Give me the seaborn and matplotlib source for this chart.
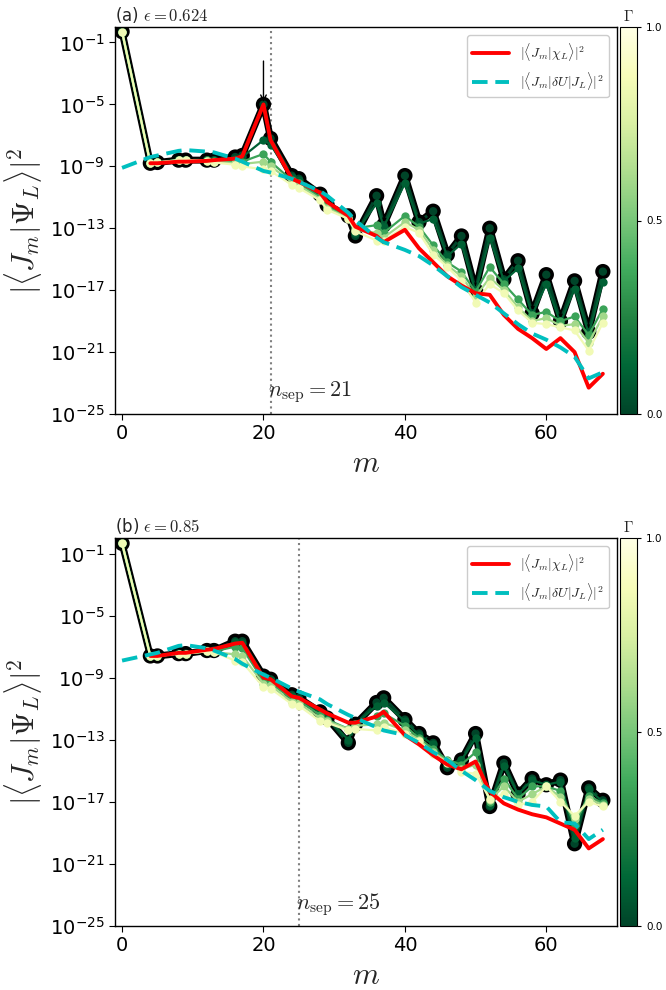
import numpy as np
import pandas as pd
import matplotlib
matplotlib.use("Agg")
import matplotlib.pyplot as plt
import matplotlib.patheffects as pe
from matplotlib.ticker import NullLocator
from matplotlib.cm import ScalarMappable
from matplotlib.colors import Normalize
import seaborn as sns

# ---------------- data (log10 of |<J_m|Psi_L>|^2) ----------------
m_vals = [0, 4, 5, 8, 9, 12, 13, 16, 17, 20, 21, 24, 25, 28, 29, 32, 33, 36, 37,
          40, 42, 44, 46, 48, 50, 52, 54, 56, 58, 60, 62, 64, 66, 68]
gammas = [0.0, 0.1, 0.35, 0.6, 0.85]

a_g00 = [-0.3, -8.8, -8.75, -8.6, -8.6, -8.6, -8.6, -8.4, -8.3, -5.0, -7.2, -9.6, -9.8, -10.8, -11.5, -12.2, -13.5,
         -10.9, -12.8, -9.6, -12.6, -11.9, -14.7, -13.5, -17.0, -13.0, -16.3, -15.1, -18.5, -16.0, -19.0, -16.4, -19.7, -15.8]
a_g01 = [-0.3, -8.8, -8.75, -8.6, -8.6, -8.6, -8.6, -8.5, -8.4, -7.3, -7.6, -9.7, -9.9, -10.9, -11.5, -12.3, -13.3,
         -11.4, -12.9, -10.1, -12.7, -12.4, -14.8, -14.0, -17.1, -13.6, -16.4, -15.6, -18.6, -16.6, -19.1, -16.9, -19.8, -16.5]
a_g04 = [-0.3, -8.8, -8.75, -8.6, -8.6, -8.6, -8.65, -8.7, -8.7, -8.2, -8.7, -9.9, -10.1, -11.0, -11.6, -12.3, -13.0,
         -12.8, -13.3, -12.2, -12.9, -14.1, -15.2, -15.8, -17.1, -15.5, -16.6, -17.6, -18.6, -18.4, -19.0, -18.7, -19.9, -18.2]
a_g07 = [-0.3, -8.8, -8.75, -8.6, -8.6, -8.65, -8.7, -8.8, -8.85, -8.7, -9.0, -10.0, -10.25, -11.1, -11.7, -12.35, -13.1,
         -13.3, -13.6, -12.6, -13.1, -14.4, -15.4, -16.1, -17.4, -16.2, -17.0, -18.1, -19.0, -18.8, -19.3, -19.2, -20.4, -18.7]
a_g10 = [-0.3, -8.8, -8.75, -8.6, -8.6, -8.65, -8.75, -8.9, -9.0, -9.2, -9.3, -10.2, -10.4, -11.2, -11.8, -12.4, -13.2,
         -13.8, -13.8, -12.9, -13.3, -14.7, -15.5, -16.4, -17.8, -16.6, -17.2, -18.3, -19.1, -19.2, -19.4, -19.6, -20.9, -19.1]
a_red = [-8.8, -8.8, -8.7, -8.7, -8.65, -8.6, -8.5, -8.35, -5.0, -7.3, -9.8, -10.0, -10.7, -11.3, -12.2, -12.9,
         -13.5, -13.9, -13.1, -14.3, -15.2, -16.1, -16.7, -17.2, -17.3, -18.6, -19.5, -20.1, -20.8, -20.1, -21.0, -23.3, -22.4]
a_cyan = [-9.1, -8.4, -8.3, -8.0, -7.95, -8.05, -8.1, -8.5, -8.7, -9.3, -9.4, -9.8, -10.0, -10.6, -10.9, -12.0, -12.5,
          -13.6, -13.9, -14.4, -14.8, -15.4, -16.1, -16.8, -17.3, -17.8, -18.5, -19.2, -19.8, -20.2, -20.7, -21.3, -22.7, -22.3]

b_g00 = [-0.35, -7.6, -7.6, -7.45, -7.45, -7.25, -7.25, -6.65, -6.65, -8.9, -9.1, -10.1, -10.3, -11.2, -11.6, -13.2, -12.0,
         -10.6, -10.3, -11.7, -12.6, -13.2, -14.8, -14.3, -12.6, -17.3, -14.5, -16.5, -15.5, -15.9, -15.6, -19.7, -16.1, -16.9]
b_g01 = [-0.35, -7.6, -7.6, -7.45, -7.45, -7.25, -7.25, -6.7, -6.75, -8.95, -9.15, -10.15, -10.35, -11.2, -11.6, -13.0, -12.0,
         -10.8, -10.6, -11.8, -12.7, -13.3, -14.6, -14.3, -12.9, -17.2, -14.7, -16.5, -15.6, -15.9, -15.7, -19.3, -16.2, -17.0]
b_g04 = [-0.35, -7.6, -7.6, -7.45, -7.45, -7.3, -7.3, -7.0, -7.1, -9.2, -9.35, -10.35, -10.5, -11.4, -11.7, -12.3, -12.0,
         -11.5, -11.3, -12.1, -12.9, -13.6, -14.3, -14.6, -13.8, -17.0, -15.5, -16.8, -16.0, -16.0, -16.3, -18.5, -16.6, -17.1]
b_g07 = [-0.35, -7.6, -7.6, -7.45, -7.45, -7.3, -7.35, -7.5, -7.6, -9.4, -9.5, -10.55, -10.65, -11.6, -11.8, -12.3, -12.1,
         -12.0, -11.9, -12.4, -13.0, -13.8, -14.4, -14.9, -14.6, -16.9, -16.0, -17.0, -16.5, -16.0, -16.7, -18.1, -16.8, -17.2]
b_g10 = [-0.35, -7.6, -7.6, -7.45, -7.45, -7.3, -7.35, -7.9, -8.0, -9.6, -9.7, -10.7, -10.8, -11.8, -11.9, -12.4, -12.3,
         -12.4, -12.2, -12.6, -13.1, -13.9, -14.5, -15.05, -15.2, -16.8, -16.5, -17.2, -17.0, -16.0, -17.0, -17.9, -17.0, -17.3]
b_red = [-7.6, -7.6, -7.4, -7.4, -7.2, -7.15, -6.8, -6.75, -9.0, -9.1, -10.2, -10.3, -11.05, -11.3, -11.9, -11.9,
         -11.5, -11.2, -12.7, -13.3, -14.0, -14.6, -14.9, -14.4, -16.35, -17.1, -17.5, -17.8, -18.0, -18.4, -18.8, -20.0, -19.4]
b_cyan = [-7.9, -7.5, -7.4, -6.95, -6.9, -7.1, -7.25, -7.8, -8.1, -8.8, -9.0, -9.7, -9.9, -10.4, -10.7, -11.4, -11.6,
          -12.2, -12.4, -12.7, -13.2, -13.8, -14.3, -15.0, -15.6, -16.3, -16.7, -17.0, -17.2, -17.3, -18.3, -18.4, -19.4, -18.8]

panel_titles = [r"(a) $\epsilon=0.624$", r"(b) $\epsilon=0.85$"]
n_seps = [21, 25]
legend_labels = [r"$|\langle J_m|\chi_L\rangle|^2$", r"$|\langle J_m|\delta U|J_L\rangle|^2$"]
ytick_exps = [-25, -21, -17, -13, -9, -5, -1]
xticks = [0, 20, 40, 60]
cbar_ticks = [0.0, 0.5, 1.0]

# ---------------- style ----------------
sns.set_style("ticks")
plt.rcParams["font.family"] = ["DejaVu Sans"]
plt.rcParams["mathtext.fontset"] = "cm"
plt.rcParams["axes.unicode_minus"] = False
plt.rcParams["xtick.major.size"] = 4
plt.rcParams["ytick.major.size"] = 4
plt.rcParams["axes.edgecolor"] = "black"
plt.rcParams["xtick.color"] = "black"
plt.rcParams["ytick.color"] = "black"

fig = plt.figure(figsize=(6.66, 9.90), dpi=100)
W, H = 666.0, 990.0
ax_a = fig.add_axes([115 / W, 1 - 414 / H, (617 - 115) / W, (414 - 27) / H])
cax_a = fig.add_axes([620 / W, 1 - 414 / H, 17 / W, (414 - 27) / H])
ax_b = fig.add_axes([115 / W, 1 - 926 / H, (617 - 115) / W, (926 - 538) / H])
cax_b = fig.add_axes([620 / W, 1 - 926 / H, 17 / W, (926 - 538) / H])

cmap = "YlGn_r"


def draw_panel(ax, cax, curves, red, cyan, nsep, title, arrow):
    rows = []
    for g, vals in zip(gammas, curves):
        for m, v in zip(m_vals, vals):
            rows.append({"m": m, "val": 10.0 ** v, "gamma": g})
    df = pd.DataFrame(rows)
    ax.set_yscale("log")
    sns.lineplot(data=df, x="m", y="val", hue="gamma", palette=cmap, hue_norm=(0, 1),
                 estimator=None, sort=False, marker="o", markersize=6, markeredgewidth=0,
                 lw=1.6, legend=False, ax=ax)
    glines = list(ax.lines)
    glines[0].set_path_effects([pe.Stroke(linewidth=5, foreground="k"), pe.Normal()])
    glines[0].set_linewidth(2.2)

    sns.lineplot(x=m_vals[1:], y=[10.0 ** v for v in red], color="red", lw=2.8, ax=ax)
    red_line = ax.lines[-1]
    sns.lineplot(x=m_vals, y=[10.0 ** v for v in cyan], color="#00bfbf", lw=2.8, ax=ax)
    cyan_line = ax.lines[-1]
    cyan_line.set_dashes([4, 2])

    ax.axvline(nsep, color="gray", ls=":", lw=1.5, zorder=1)
    ax.text(nsep - 0.4, 10.0 ** -23.6, r"$n_{\rm sep}=%d$" % nsep, fontsize=16, va="center", ha="left")

    if arrow:
        ax.annotate("", xy=(20, 10.0 ** -4.85), xytext=(20, 10.0 ** -2.2),
                    arrowprops=dict(arrowstyle="->", color="k", lw=1.0, shrinkA=0, shrinkB=0))

    ax.set_xlim(-1, 70)
    ax.set_ylim(1e-25, 1.0)
    ax.set_yticks([10.0 ** e for e in ytick_exps])
    ax.yaxis.set_minor_locator(NullLocator())
    ax.set_xticks(xticks)
    ax.tick_params(labelsize=14)
    ax.set_xlabel(r"$m$", fontsize=22)
    ax.set_ylabel(r"$|\langle J_m|\Psi_L\rangle|^2$", fontsize=22)
    ax.set_title(title, loc="left", fontsize=12, pad=4)
    for sp in ax.spines.values():
        sp.set_visible(True)
        sp.set_linewidth(1.0)

    ax.legend(handles=[red_line, cyan_line], labels=legend_labels, loc="upper right",
              fontsize=10, handlelength=2.6, borderaxespad=0.6, framealpha=1.0)

    sm = ScalarMappable(norm=Normalize(0, 1), cmap=cmap)
    cb = fig.colorbar(sm, cax=cax, ticks=cbar_ticks)
    cb.ax.tick_params(labelsize=7.5, length=3)
    cb.ax.set_title(r"$\Gamma$", fontsize=11, pad=4)
    cb.outline.set_edgecolor("black")


draw_panel(ax_a, cax_a, [a_g00, a_g01, a_g04, a_g07, a_g10], a_red, a_cyan, n_seps[0], panel_titles[0], True)
draw_panel(ax_b, cax_b, [b_g00, b_g01, b_g04, b_g07, b_g10], b_red, b_cyan, n_seps[1], panel_titles[1], False)

fig.savefig("out.png", dpi=100)
